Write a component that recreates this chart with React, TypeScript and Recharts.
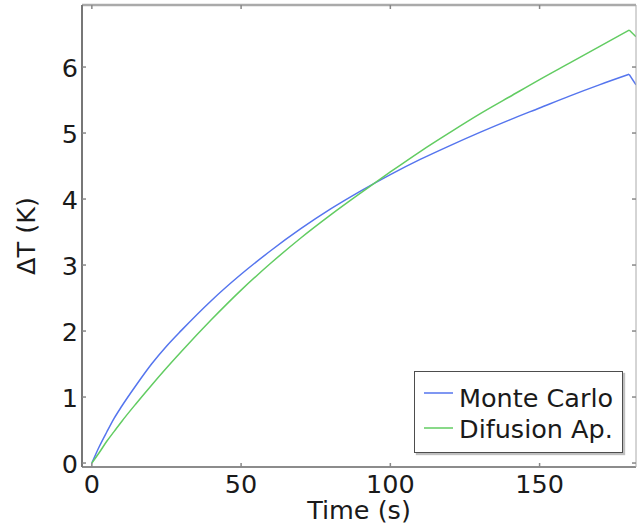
import React from 'react';
import { LineChart, Line, XAxis, YAxis, Legend } from 'recharts';

const time = [0, 2.5, 5, 7.5, 10, 15, 20, 25, 30, 40, 50, 60, 70, 80, 90, 100, 110, 120, 130, 140, 150, 160, 170, 180, 182.3];
const monteCarlo = [0, 0.25, 0.47, 0.68, 0.86, 1.19, 1.5, 1.77, 2.01, 2.46, 2.86, 3.22, 3.55, 3.85, 4.12, 4.37, 4.6, 4.81, 5.01, 5.2, 5.38, 5.56, 5.73, 5.89, 5.73];
const difusion = [0, 0.16, 0.33, 0.48, 0.63, 0.91, 1.18, 1.44, 1.69, 2.17, 2.62, 3.03, 3.41, 3.76, 4.09, 4.41, 4.72, 5.01, 5.29, 5.55, 5.81, 6.06, 6.31, 6.56, 6.46];
const xTicks = [0, 50, 100, 150];
const yTicks = [0, 1, 2, 3, 4, 5, 6];

// heating stops at t = 180 s; the short cooling tail is drawn as its own straight segment
const last = time.length - 1;
const data = time.map((t, i) => ({
  t,
  mc: i < last ? monteCarlo[i] : null,
  da: i < last ? difusion[i] : null,
  mcTail: i >= last - 1 ? monteCarlo[i] : null,
  daTail: i >= last - 1 ? difusion[i] : null,
}));

const FONT = '"DejaVu Sans", sans-serif';
const BLUE = '#5575ee';
const GREEN = '#62cc62';

const BottomTick = (props: any) => {
  const { x, y, payload } = props;
  return (
    <g>
      <line x1={x} x2={x} y1={y} y2={y - 4} stroke="#888" strokeWidth={1.5} />
      <text x={x} y={y + 26} textAnchor="middle" fontSize={25.5} fontFamily={FONT} fill="#1a1a1a">
        {payload.value}
      </text>
    </g>
  );
};

const LeftTick = (props: any) => {
  const { x, y, payload } = props;
  return (
    <g>
      <line x1={x} x2={x + 4} y1={y} y2={y} stroke="#888" strokeWidth={1.5} />
      <text x={x - 4} y={y + 9.5} textAnchor="end" fontSize={25.5} fontFamily={FONT} fill="#1a1a1a">
        {payload.value}
      </text>
    </g>
  );
};

const TopTick = (props: any) => {
  const { x, y } = props;
  return <line x1={x} x2={x} y1={y} y2={y + 4} stroke="#888" strokeWidth={1.5} />;
};

const RightTick = (props: any) => {
  const { x, y } = props;
  return <line x1={x} x2={x - 4} y1={y} y2={y} stroke="#888" strokeWidth={1.5} />;
};

const LegendBox = () => (
  <div
    style={{
      width: 209,
      height: 82,
      boxSizing: 'border-box',
      border: '1.5px solid #4d4d4d',
      background: '#fff',
      boxShadow: '2px 2px 1px rgba(0,0,0,0.25)',
    }}
  >
    <svg width={206} height={79} style={{ display: 'block' }}>
      <line x1={9} x2={38} y1={21} y2={21} stroke={BLUE} strokeWidth={1.5} />
      <text x={44} y={35} fontSize={25.5} fontFamily={FONT} fill="#1a1a1a">Monte Carlo</text>
      <line x1={9} x2={38} y1={56} y2={56} stroke={GREEN} strokeWidth={1.5} />
      <text x={44} y={66} fontSize={25.5} fontFamily={FONT} fill="#1a1a1a">Difusion Ap.</text>
    </svg>
  </div>
);

export default function App() {
  return (
    <div style={{ position: 'absolute', left: 0, top: 0, width: 637, height: 530, background: '#fff', overflow: 'hidden' }}>
      <LineChart width={637} height={530} data={data} margin={{ top: 0, right: 0, bottom: 0, left: 0 }}>
        <XAxis
          dataKey="t"
          type="number"
          domain={[-3.3, 182.3]}
          allowDataOverflow
          ticks={xTicks}
          interval={0}
          height={63}
          tickSize={0}
          tickMargin={0}
          tick={<BottomTick />}
          stroke="#666"
          strokeWidth={1.5}
          label={{
            content: (p: any) => {
              const vb = p.viewBox;
              return (
                <text x={vb.x + vb.width / 2} y={vb.y + 52} textAnchor="middle" fontSize={25.5} fontFamily={FONT} fill="#1a1a1a">
                  Time (s)
                </text>
              );
            },
          }}
        />
        <XAxis
          xAxisId="top"
          orientation="top"
          dataKey="t"
          type="number"
          domain={[-3.3, 182.3]}
          allowDataOverflow
          ticks={xTicks}
          interval={0}
          height={5}
          tickSize={0}
          tickMargin={0}
          tick={<TopTick />}
          stroke="#aaa"
          strokeWidth={2.5}
        />
        <YAxis
          type="number"
          domain={[-0.06, 6.94]}
          allowDataOverflow
          ticks={yTicks}
          interval={0}
          width={82}
          tickSize={0}
          tickMargin={0}
          tick={<LeftTick />}
          stroke="#777"
          strokeWidth={2}
          label={{
            content: () => (
              <text x={35} y={236} transform="rotate(-90 35 236)" textAnchor="middle" fontSize={25.5} fontFamily={FONT} fill="#1a1a1a">
                ΔT (K)
              </text>
            ),
          }}
        />
        <YAxis
          yAxisId="right"
          orientation="right"
          type="number"
          domain={[-0.06, 6.94]}
          allowDataOverflow
          ticks={yTicks}
          interval={0}
          width={1}
          tickSize={0}
          tickMargin={0}
          tick={<RightTick />}
          stroke="#aaa"
          strokeWidth={1}
        />
        <Legend
          layout="vertical"
          align="center"
          verticalAlign="middle"
          wrapperStyle={{ left: 414, top: 371, width: 209, height: 82 }}
          content={() => <LegendBox />}
        />
        <Line type="monotone" dataKey="mc" name="Monte Carlo" stroke={BLUE} strokeWidth={1.5} dot={false} isAnimationActive={false} />
        <Line type="linear" dataKey="mcTail" legendType="none" stroke={BLUE} strokeWidth={1.5} dot={false} isAnimationActive={false} />
        <Line type="monotone" dataKey="da" name="Difusion Ap." stroke={GREEN} strokeWidth={1.5} dot={false} isAnimationActive={false} />
        <Line type="linear" dataKey="daTail" legendType="none" stroke={GREEN} strokeWidth={1.5} dot={false} isAnimationActive={false} />
      </LineChart>
    </div>
  );
}
